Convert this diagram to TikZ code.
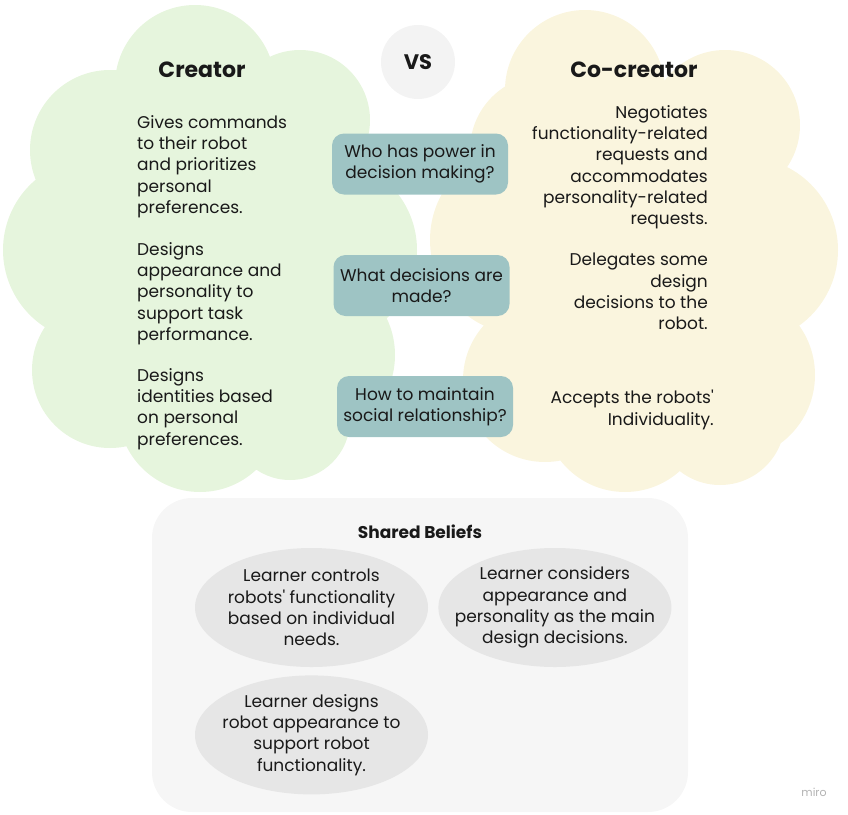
\documentclass[tikz,border=0pt]{standalone}
\usepackage{fontspec}
\setmainfont{Poppins}
\usetikzlibrary{positioning, shapes.geometric}

\definecolor{creatorgreen}{RGB}{230,245,221}
\definecolor{cocreatoryellow}{RGB}{250,245,222}
\definecolor{questionteal}{RGB}{158,196,196}
\definecolor{sharedgray}{RGB}{246,246,246}
\definecolor{beliefgray}{RGB}{230,230,230}
\definecolor{vsgray}{RGB}{243,243,243}
\definecolor{inkblack}{RGB}{25,25,25}

\newcommand{\bodysize}{\fontsize{17}{21.3}\selectfont}
\newcommand{\apos}{\textquotesingle}

\begin{document}
\begin{tikzpicture}[x=1pt, y=-1pt,
    every node/.style={inner sep=0pt, text=inkblack},
    heading/.style={font=\fontsize{22}{26}\selectfont\bfseries},
    sidetext/.style={font=\bodysize},
    question/.style={rectangle, rounded corners=12pt, fill=questionteal, minimum width=176pt, minimum height=61pt, align=center, font=\bodysize},
    belief/.style={ellipse, fill=beliefgray, inner xsep=-22pt, minimum width=233pt, minimum height=119pt, align=center, font=\bodysize}]
    \useasboundingbox (0,0) rectangle (848,814);

    % clouds
    \fill[creatorgreen] (195,85) circle (80pt) (300,120) circle (70pt) (110,150) circle (80pt)
        (95,250) circle (92pt) (325,250) circle (92pt) (110,370) circle (78pt)
        (310,355) circle (85pt) (200,410) circle (82pt) (290,420) circle (60pt) (210,250) circle (150pt);
    \fill[cocreatoryellow] (585,90) circle (80pt) (725,125) circle (75pt) (545,150) circle (75pt)
        (525,240) circle (95pt) (745,250) circle (93pt) (545,380) circle (82pt)
        (730,375) circle (85pt) (625,410) circle (82pt) (720,420) circle (65pt) (640,250) circle (150pt);

    \node[circle, fill=vsgray, minimum size=74pt, font=\fontsize{21}{24}\selectfont\bfseries] (vs) at (418,62) {VS};

    \node[heading] (creator) at (202,70) {Creator};
    \node[heading] (cocreator) at (634,70) {Co-creator};

    \node[sidetext, align=left, anchor=north west] (commands) at (137,115) {Gives commands\\to their robot\\and prioritizes\\personal\\preferences.};
    \node[sidetext, align=left, anchor=north west] (appearance) at (137,242) {Designs\\appearance and\\personality to\\support task\\performance.};
    \node[sidetext, align=left, anchor=north west] (identities) at (137,368) {Designs\\identities based\\on personal\\preferences.};

    \node[sidetext, align=right, anchor=north east] (negotiates) at (708,105) {Negotiates\\functionality-related\\requests and\\accommodates\\personality-related\\requests.};
    \node[sidetext, align=right, anchor=north east] (delegates) at (708,253) {Delegates some\\design\\decisions to the\\robot.};
    \node[sidetext, align=right, anchor=north east] (accepts) at (714,390) {Accepts the robots\apos\\Individuality.};

    \node[question] (power) at (420,164) {Who has power in\\decision making?};
    \node[question] (decisions) at (421.5,285.5) {What decisions are\\made?};
    \node[question] (relationship) at (425,406.5) {How to maintain\\social relationship?};

    % shared beliefs
    \node[rectangle, rounded corners=40pt, fill=sharedgray, minimum width=536pt, minimum height=314pt] (shared) at (420,655) {};
    \node[font=\fontsize{17}{20}\selectfont\bfseries, below=27pt of shared.north] (sharedtitle) {Shared Beliefs};
    \node[belief] (controls) at (311.5,607.5) {Learner controls\\robots\apos{} functionality\\based on individual\\needs.};
    \node[belief, right=10pt of controls] (considers) {Learner considers\\appearance and\\personality as the main\\design decisions.};
    \node[belief, below=8pt of controls] (designs) {Learner designs\\robot appearance to\\support robot\\functionality.};

    \node[font=\fontsize{11}{13}\selectfont, text=black!30] (miro) at (814,792) {miro};
\end{tikzpicture}
\end{document}
